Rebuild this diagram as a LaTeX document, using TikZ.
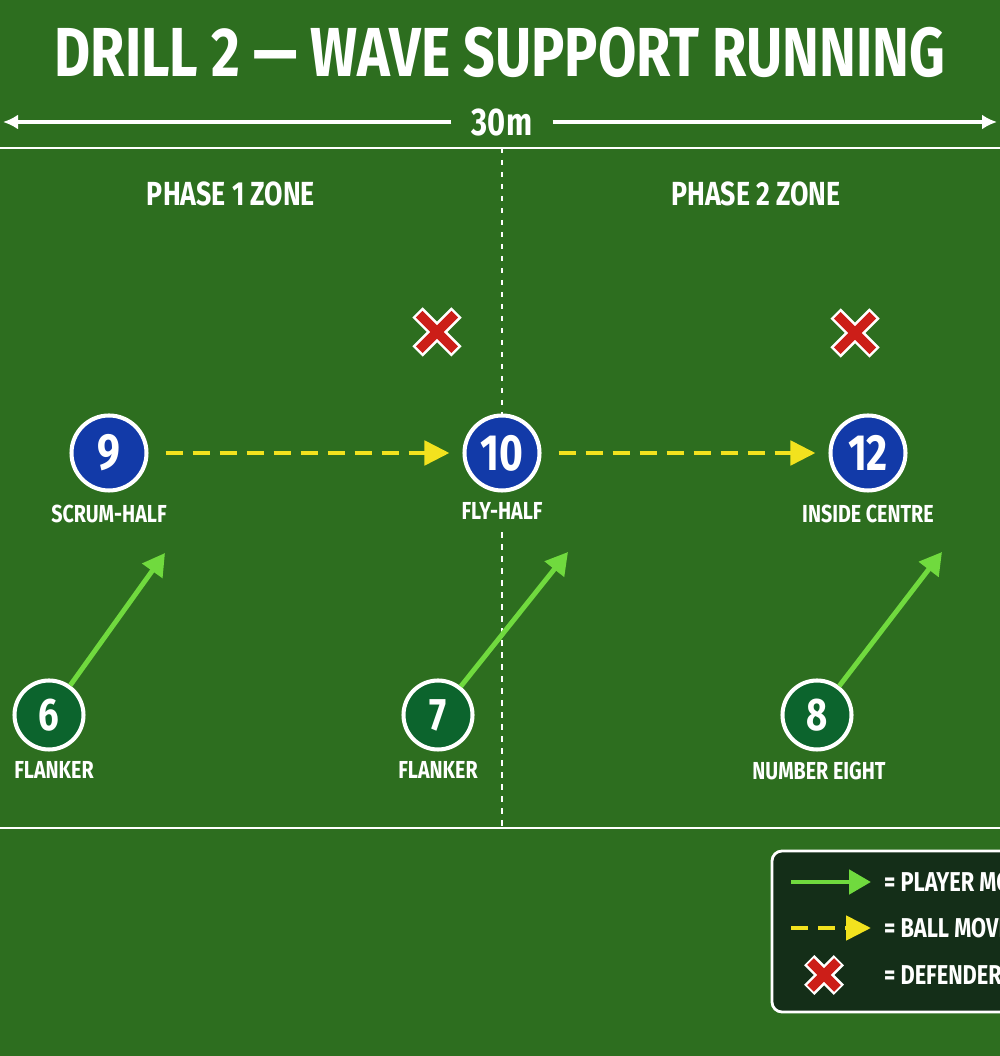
\documentclass[tikz,border=0pt]{standalone}
\usepackage{fontspec}
\setmainfont{Fira Sans}
\newfontfamily\drillfont[FakeStretch=0.8]{Fira Sans}
\usetikzlibrary{positioning,arrows.meta}
\definecolor{pitch}{RGB}{45,110,31}
\definecolor{boxgreen}{RGB}{20,46,24}
\definecolor{backblue}{RGB}{18,58,168}
\definecolor{fwdgreen}{RGB}{12,100,45}
\definecolor{runline}{RGB}{112,218,62}
\definecolor{passline}{RGB}{242,226,30}
\definecolor{defred}{RGB}{204,30,24}

\tikzset{
  defx/.pic={
    \draw[white, line width=0.29cm] (-0.39,-0.39) -- (0.39,0.39) (-0.39,0.39) -- (0.39,-0.39);
    \draw[defred, line width=0.19cm] (-0.355,-0.355) -- (0.355,0.355) (-0.355,0.355) -- (0.355,-0.355);
  }
}

\begin{document}
\begin{tikzpicture}[
  bk/.style={circle, draw=white, line width=2.3pt, fill=#1, minimum size=1.5cm, inner sep=0pt,
             text=white, font=\drillfont\bfseries\fontsize{29}{31}\selectfont},
  fw/.style={bk=#1, minimum size=1.38cm, font=\drillfont\bfseries\fontsize{26}{28}\selectfont},
  lbl/.style={text=white, inner sep=1pt, font=\drillfont\bfseries\fontsize{14}{16}\selectfont},
  run/.style={runline, line width=2.8pt, -{Triangle[length=0.44cm, width=0.48cm]}},
  pass/.style={passline, line width=2.8pt, dash pattern=on 0.34cm off 0.2cm,
               -{Triangle[length=0.5cm, width=0.48cm]}},
  dim/.style={white, line width=2.2pt, -{Latex[length=0.3cm, width=0.3cm]}},
]
\useasboundingbox (0,0) rectangle (20,21.12);
\clip (0,0) rectangle (20,21.12);
\fill[pitch] (0,0) rectangle (20,21.12);

% title and width
\node[text=white, font=\drillfont\bfseries\fontsize{39.5}{42}\selectfont] (title) at (10,20.08)
    {DRILL 2 — WAVE SUPPORT RUNNING};
\node[text=white, inner sep=0.4cm, font=\drillfont\bfseries\fontsize{22}{24}\selectfont] (len) at (10.04,18.68) {30m};
\coordinate (lenL) at (0.06,18.68);
\coordinate (lenR) at (19.94,18.68);
\draw[dim] (len.west) -- (lenL);
\draw[dim] (len.east) -- (lenR);

% pitch markings
\coordinate (topL) at (0,18.16);
\coordinate (topR) at (20,18.16);
\coordinate (botL) at (0,4.56);
\coordinate (botR) at (20,4.56);
\coordinate (midT) at (10.04,18.16);
\coordinate (midB) at (10.04,4.56);
\draw[white, line width=1.3pt] (topL) -- (topR);
\draw[white, line width=1.3pt] (botL) -- (botR);
\draw[white, line width=1.7pt, dash pattern=on 0.11cm off 0.13cm] (midT) -- (midB);

\node[lbl, font=\drillfont\bfseries\fontsize{19}{21}\selectfont] (zone1) at (4.62,17.24) {PHASE 1 ZONE};
\node[lbl, font=\drillfont\bfseries\fontsize{19}{21}\selectfont] (zone2) at (15.12,17.24) {PHASE 2 ZONE};

% defenders
\coordinate (d1) at (8.74,14.48);
\coordinate (d2) at (17.1,14.46);
\pic at (d1) {defx};
\pic at (d2) {defx};

% backs
\node[bk=backblue] (p9)  at (2.18,12.06)  {9};
\node[bk=backblue] (p10) at (10.04,12.06) {10};
\node[bk=backblue] (p12) at (17.36,12.06) {12};
\node[lbl, below=0.2cm of p9]  (n9)  {SCRUM-HALF};
\node[lbl, below=0.06cm of p10, fill=pitch, inner ysep=0.14cm] (n10) {FLY-HALF};
\node[lbl, below=0.2cm of p12] (n12) {INSIDE CENTRE};

% forwards
\node[fw=fwdgreen] (p6) at (0.98,6.82)  {6};
\node[fw=fwdgreen] (p7) at (8.76,6.82)  {7};
\node[fw=fwdgreen] (p8) at (16.34,6.82) {8};
\node[lbl, below=0.16cm of p6, xshift=0.1cm] (n6) {FLANKER};
\node[lbl, below=0.16cm of p7] (n7) {FLANKER};
\node[lbl, below=0.16cm of p8, xshift=0.04cm] (n8) {NUMBER EIGHT};

% ball and support lines
\draw[pass, shorten <=0.34cm, shorten >=0.26cm] (p9) -- (p10);
\draw[pass, shorten <=0.34cm, shorten >=0.26cm] (p10) -- (p12);
\coordinate (r6) at (3.3,10.06);
\coordinate (r7) at (11.36,10.08);
\coordinate (r8) at (18.84,10.08);
\draw[run] (p6) -- (r6);
\draw[run] (p7) -- (r7);
\draw[run] (p8) -- (r8);

% key
\draw[white, line width=1.6pt, fill=boxgreen, rounded corners=0.2cm] (15.44,0.88) rectangle (20.6,4.1);
\coordinate (k1a) at (15.82,3.48);
\coordinate (k1b) at (17.42,3.48);
\coordinate (k2a) at (15.82,2.56);
\coordinate (k2b) at (17.42,2.56);
\coordinate (k3) at (16.48,1.62);
\draw[run] (k1a) -- (k1b);
\draw[pass] (k2a) -- (k2b);
\pic[scale=0.76] at (k3) {defx};
\node[lbl, anchor=west, font=\drillfont\bfseries\fontsize{15.5}{17}\selectfont] (t1) at (17.64,3.48) {= PLAYER MOVEMENT};
\node[lbl, anchor=west, font=\drillfont\bfseries\fontsize{15.5}{17}\selectfont] (t2) at (17.64,2.56) {= BALL MOVEMENT};
\node[lbl, anchor=west, font=\drillfont\bfseries\fontsize{15.5}{17}\selectfont] (t3) at (17.64,1.62) {= DEFENDER};
\end{tikzpicture}
\end{document}
